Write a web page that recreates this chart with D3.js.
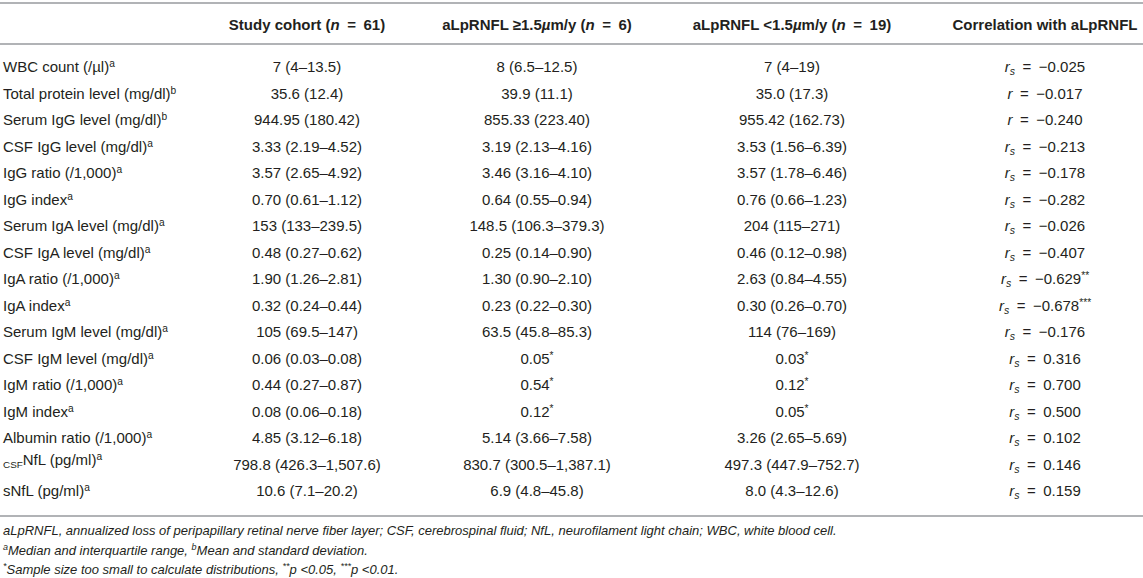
<!DOCTYPE html>
<html>
<head>
<meta charset="utf-8">
<script src="https://cdn.jsdelivr.net/npm/d3@7"></script>
<style>
  body { margin: 0; background: #fff; }
  text { font-family: "Liberation Sans", Arial, sans-serif; fill: #231f20; }
</style>
</head>
<body>
<div id="table"></div>
<script>
// Table content
const rowLabels = [
    "WBC count (/\u00b5l)", "Total protein level (mg/dl)", "Serum IgG level (mg/dl)",
    "CSF IgG level (mg/dl)", "IgG ratio (/1,000)", "IgG index",
    "Serum IgA level (mg/dl)", "CSF IgA level (mg/dl)", "IgA ratio (/1,000)", "IgA index",
    "Serum IgM level (mg/dl)", "CSF IgM level (mg/dl)", "IgM ratio (/1,000)", "IgM index",
    "Albumin ratio (/1,000)", "NfL (pg/ml)", "sNfL (pg/ml)"
];
const rowNotes = ["a", "b", "b", "a", "a", "a", "a", "a", "a", "a", "a", "a", "a", "a", "a", "a", "a"];

const studyCohort = [
    "7 (4\u201313.5)", "35.6 (12.4)", "944.95 (180.42)", "3.33 (2.19\u20134.52)", "3.57 (2.65\u20134.92)",
    "0.70 (0.61\u20131.12)", "153 (133\u2013239.5)", "0.48 (0.27\u20130.62)", "1.90 (1.26\u20132.81)",
    "0.32 (0.24\u20130.44)", "105 (69.5\u2013147)", "0.06 (0.03\u20130.08)", "0.44 (0.27\u20130.87)",
    "0.08 (0.06\u20130.18)", "4.85 (3.12\u20136.18)", "798.8 (426.3\u20131,507.6)", "10.6 (7.1\u201320.2)"
];
const highLoss = [
    "8 (6.5\u201312.5)", "39.9 (11.1)", "855.33 (223.40)", "3.19 (2.13\u20134.16)", "3.46 (3.16\u20134.10)",
    "0.64 (0.55\u20130.94)", "148.5 (106.3\u2013379.3)", "0.25 (0.14\u20130.90)", "1.30 (0.90\u20132.10)",
    "0.23 (0.22\u20130.30)", "63.5 (45.8\u201385.3)", "0.05*", "0.54*",
    "0.12*", "5.14 (3.66\u20137.58)", "830.7 (300.5\u20131,387.1)", "6.9 (4.8\u201345.8)"
];
const lowLoss = [
    "7 (4\u201319)", "35.0 (17.3)", "955.42 (162.73)", "3.53 (1.56\u20136.39)", "3.57 (1.78\u20136.46)",
    "0.76 (0.66\u20131.23)", "204 (115\u2013271)", "0.46 (0.12\u20130.98)", "2.63 (0.84\u20134.55)",
    "0.30 (0.26\u20130.70)", "114 (76\u2013169)", "0.03*", "0.12*",
    "0.05*", "3.26 (2.65\u20135.69)", "497.3 (447.9\u2013752.7)", "8.0 (4.3\u201312.6)"
];
const corrType = ["rs", "r", "r", "rs", "rs", "rs", "rs", "rs", "rs", "rs", "rs", "rs", "rs", "rs", "rs", "rs", "rs"];
const corrValue = [
    "\u22120.025", "\u22120.017", "\u22120.240", "\u22120.213", "\u22120.178", "\u22120.282",
    "\u22120.026", "\u22120.407", "\u22120.629**", "\u22120.678***", "\u22120.176",
    "0.316", "0.700", "0.500", "0.102", "0.146", "0.159"
];

const columns = ["label", "study", "high", "low", "corr"];

// Dimensions
const width = 1143, height = 578;
const fontSize = 15;
const eq = "\u2002=\u2002"; // math-style spacing round "="

const svg = d3.select("#table")
    .append("svg")
    .attr("width", width)
    .attr("height", height);

// Scales
const yRow = d3.scalePoint()
    .domain(d3.range(rowLabels.length))
    .range([67, 67 + 26.5 * (rowLabels.length - 1)]);

const xCol = d3.scaleOrdinal()
    .domain(columns)
    .range([3, 307, 537, 792, 1045]);

// Rules
const rules = [3, 44, 516];
svg.selectAll(".rule")
    .data(rules)
    .enter()
    .append("line")
    .attr("class", "rule")
    .attr("x1", 0)
    .attr("x2", width)
    .attr("y1", d => d)
    .attr("y2", d => d)
    .attr("stroke", "#b1b3b6")
    .attr("stroke-width", 2);

// Header
const header = svg.append("g")
    .attr("font-weight", "bold")
    .attr("font-size", fontSize)
    .attr("text-anchor", "middle");

function headerCell(col, parts) {
    const t = header.append("text")
        .attr("x", xCol(col))
        .attr("y", 25)
        .attr("dy", "0.35em");
    parts.forEach(p => {
        t.append("tspan")
            .attr("font-style", p.italic ? "italic" : null)
            .text(p.text);
    });
}

headerCell("study", [{ text: "Study cohort (" }, { text: "n", italic: true }, { text: eq + "61)" }]);
headerCell("high", [{ text: "aLpRNFL \u22651.5" }, { text: "\u00b5", italic: true }, { text: "m/y (" }, { text: "n", italic: true }, { text: eq + "6)" }]);
headerCell("low", [{ text: "aLpRNFL <1.5" }, { text: "\u00b5", italic: true }, { text: "m/y (" }, { text: "n", italic: true }, { text: eq + "19)" }]);
headerCell("corr", [{ text: "Correlation with aLpRNFL" }]);

// Body rows
const body = svg.append("g")
    .attr("font-size", fontSize);

const rows = body.selectAll(".row")
    .data(rowLabels.map((d, i) => i))
    .enter()
    .append("g")
    .attr("class", "row")
    .attr("transform", i => `translate(0,${yRow(i)})`);

// Row labels with superscript note letters
rows.append("text")
    .attr("x", xCol("label"))
    .attr("dy", "0.35em")
    .each(function (i) {
        const t = d3.select(this);
        if (i === 15) {
            // subscripted CSF prefix
            t.append("tspan")
                .attr("font-size", fontSize * 0.66)
                .attr("dy", 3)
                .text("CSF");
            t.append("tspan")
                .attr("dy", -3)
                .text(rowLabels[i]);
        } else {
            t.append("tspan").text(rowLabels[i]);
        }
        t.append("tspan")
            .attr("font-size", fontSize * 0.68)
            .attr("baseline-shift", "super")
            .text(rowNotes[i]);
    });

// Value cells, a trailing run of "*" is raised
function valueCell(sel, col, values) {
    sel.append("text")
        .attr("x", xCol(col))
        .attr("dy", "0.35em")
        .attr("text-anchor", "middle")
        .each(function (i) {
            const m = values[i].match(/^(.*?)(\**)$/);
            const t = d3.select(this);
            t.append("tspan").text(m[1]);
            if (m[2]) {
                t.append("tspan")
                    .attr("font-size", fontSize * 0.68)
                    .attr("baseline-shift", "super")
                    .text(m[2]);
            }
        });
}

valueCell(rows, "study", studyCohort);
valueCell(rows, "high", highLoss);
valueCell(rows, "low", lowLoss);

// Correlation cells
rows.append("text")
    .attr("x", xCol("corr"))
    .attr("dy", "0.35em")
    .attr("text-anchor", "middle")
    .each(function (i) {
        const t = d3.select(this);
        const m = corrValue[i].match(/^(.*?)(\**)$/);
        t.append("tspan").attr("font-style", "italic").text("r");
        if (corrType[i] === "rs") {
            t.append("tspan")
                .attr("font-style", "italic")
                .attr("font-size", fontSize * 0.7)
                .attr("dy", 3)
                .text("s");
            t.append("tspan").attr("dy", -3).text(eq + m[1]);
        } else {
            t.append("tspan").text(eq + m[1]);
        }
        if (m[2]) {
            t.append("tspan")
                .attr("font-size", fontSize * 0.68)
                .attr("baseline-shift", "super")
                .text(m[2]);
        }
    });

// Footnotes
const notes = svg.append("g")
    .attr("font-size", 13)
    .attr("font-style", "italic");

notes.append("text")
    .attr("x", 3)
    .attr("y", 535)
    .text("aLpRNFL, annualized loss of peripapillary retinal nerve fiber layer; CSF, cerebrospinal fluid; NfL, neurofilament light chain; WBC, white blood cell.");

const n2 = notes.append("text").attr("x", 3).attr("y", 555);
n2.append("tspan").attr("font-size", 9).attr("baseline-shift", "super").text("a");
n2.append("tspan").text("Median and interquartile range, ");
n2.append("tspan").attr("font-size", 9).attr("baseline-shift", "super").text("b");
n2.append("tspan").text("Mean and standard deviation.");

const n3 = notes.append("text").attr("x", 3).attr("y", 574);
n3.append("tspan").attr("font-size", 9).attr("baseline-shift", "super").text("*");
n3.append("tspan").text("Sample size too small to calculate distributions, ");
n3.append("tspan").attr("font-size", 9).attr("baseline-shift", "super").text("**");
n3.append("tspan").text("p <0.05, ");
n3.append("tspan").attr("font-size", 9).attr("baseline-shift", "super").text("***");
n3.append("tspan").text("p <0.01.");
</script>
</body>
</html>
